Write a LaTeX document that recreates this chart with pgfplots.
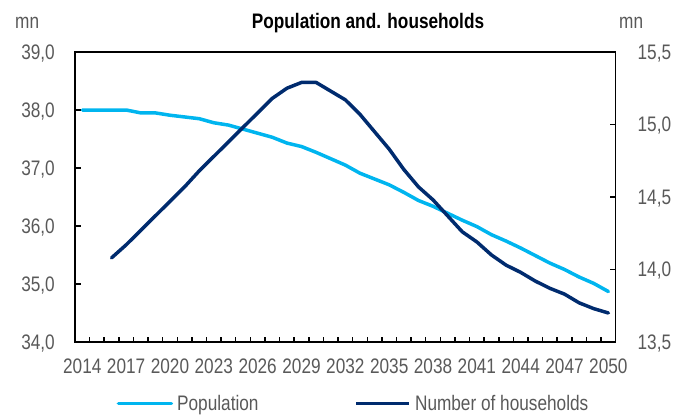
\documentclass[border=0pt]{standalone}
\usepackage{fontspec}
\setmainfont{Liberation Sans}[FakeStretch=0.82]
\usepackage{pgfplots}
\pgfplotsset{compat=1.18}
\definecolor{popc}{HTML}{00B5EF}
\definecolor{hhc}{HTML}{002B6E}
\definecolor{txt}{HTML}{595959}
\newcommand{\cf}{\fontsize{21}{25}\selectfont}

\pgfplotstableread{
year pop
2014 38.00
2015 38.00
2016 38.00
2017 38.00
2018 37.95
2019 37.95
2020 37.91
2021 37.88
2022 37.85
2023 37.78
2024 37.74
2025 37.67
2026 37.60
2027 37.53
2028 37.43
2029 37.37
2030 37.27
2031 37.16
2032 37.05
2033 36.91
2034 36.81
2035 36.71
2036 36.58
2037 36.44
2038 36.34
2039 36.22
2040 36.10
2041 35.99
2042 35.85
2043 35.74
2044 35.62
2045 35.49
2046 35.36
2047 35.25
2048 35.12
2049 35.01
2050 34.87
}\poptable

\pgfplotstableread{
year hh
2016 14.08
2017 14.17
2018 14.27
2019 14.37
2020 14.47
2021 14.57
2022 14.68
2023 14.78
2024 14.88
2025 14.98
2026 15.08
2027 15.18
2028 15.25
2029 15.29
2030 15.29
2031 15.23
2032 15.17
2033 15.07
2034 14.95
2035 14.83
2036 14.69
2037 14.57
2038 14.48
2039 14.37
2040 14.26
2041 14.19
2042 14.10
2043 14.03
2044 13.98
2045 13.92
2046 13.87
2047 13.83
2048 13.77
2049 13.73
2050 13.70
}\hhtable

\begin{document}
\begin{tikzpicture}
\path[use as bounding box] (-75pt,-78pt) rectangle (611pt,342pt);
\begin{axis}[
  at={(0pt,0pt)}, anchor=south west,
  scale only axis, width=540.7pt, height=290pt,
  xmin=2013.5, xmax=2050.5, ymin=34, ymax=39,
  axis line style={line width=1.5pt, black},
  tick align=inside,
  xtick pos=bottom, ytick pos=left,
  xtick={2014,2017,...,2050},
  xticklabels={2014,2017,2020,2023,2026,2029,2032,2035,2038,2041,2044,2047,2050},
  major x tick style={draw=none},
  minor xtick={2014.5,2015.5,...,2049.5},
  minor tick length=5pt,
  major tick length=6pt,
  tick style={line width=1.5pt, black},
  ytick={34,35,36,37,38,39},
  xticklabel style={font=\cf, text=txt, inner sep=0pt, anchor=north, yshift=-17pt},
  yticklabel style={/pgf/number format/fixed, /pgf/number format/fixed zerofill,
     /pgf/number format/precision=1, /pgf/number format/use comma,
     /pgf/number format/assume math mode=true,
     font=\cf, text=txt, inner sep=0pt, anchor=east, xshift=-20pt, text depth=0pt},
  legend columns=2,
  legend image code/.code={\draw[#1, line width=3.5pt] (0pt,0pt) -- (53pt,0pt);},
  legend style={at={(axis description cs:0.0771,-0.2114)}, anchor=west,
     draw=none, fill=none, inner sep=0pt, outer sep=0pt,
     font=\cf, text=txt,
     nodes={inner sep=0pt},
     /tikz/every odd column/.append style={column sep=4pt},
     /tikz/every even column/.append style={column sep=96pt}},
  legend cell align=left,
]
\addplot[popc, line width=3.5pt, line join=round, line cap=round] table[x=year, y=pop] {\poptable};
\addlegendentry{Population}
\addlegendimage{hhc, line width=3.5pt}
\addlegendentry{Number of households}
\end{axis}
\begin{axis}[
  at={(0pt,0pt)}, anchor=south west,
  scale only axis, width=540.7pt, height=290pt,
  xmin=2013.5, xmax=2050.5, ymin=13.5, ymax=15.5,
  axis x line=none, axis y line*=right,
  axis line style={line width=1.5pt, black},
  tick align=inside,
  major tick length=6pt,
  tick style={line width=1.5pt, black},
  ytick={13.5,14,14.5,15,15.5},
  yticklabel style={/pgf/number format/fixed, /pgf/number format/fixed zerofill,
     /pgf/number format/precision=1, /pgf/number format/use comma,
     /pgf/number format/assume math mode=true,
     font=\cf, text=txt, inner sep=0pt, anchor=west, xshift=21.7pt, text depth=0pt},
]
\addplot[hhc, line width=3.5pt, line join=round, line cap=round] table[x=year, y=hh] {\hhtable};
\end{axis}
\node[anchor=base west, font=\cf, text=txt, inner sep=0pt] at (-60pt,313.7pt) {mn};
\node[anchor=base west, font=\cf, text=txt, inner sep=0pt] at (544pt,313.7pt) {mn};
\node[anchor=base, font=\cf\bfseries, inner sep=0pt] at (293pt,313.7pt) {Population and. households};
\end{tikzpicture}
\end{document}
